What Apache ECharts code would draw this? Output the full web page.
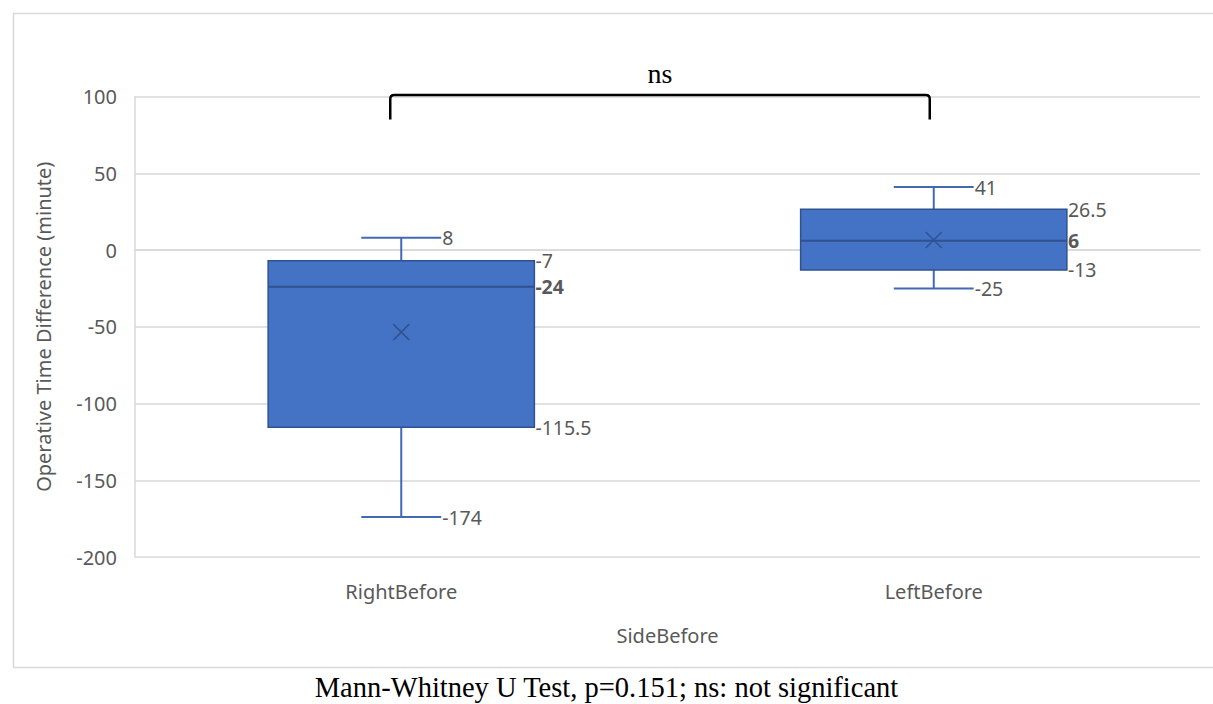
<!DOCTYPE html>
<html>
<head>
<meta charset="utf-8">
<script src="https://cdn.jsdelivr.net/npm/echarts@6/dist/echarts.min.js"></script>
<style>
  html, body { margin: 0; padding: 0; background: #ffffff; }
  #chart { width: 1213px; height: 704px; }
</style>
</head>
<body>
<div id="chart"></div>
<script>
// ---- data ----
const categories = ['RightBefore', 'LeftBefore'];
const minimums = [-174, -25];
const lowerQuartiles = [-115.5, -13];
const medians = [-24, 6];
const upperQuartiles = [-7, 26.5];
const maximums = [8, 41];
const means = [-53.5, 6.5];
const yTicks = { min: -200, max: 100, interval: 50 };
const bracketPair = [0, 1];
const bracketLevels = [101, 85];   // top, foot of the bracket (axis units)
const bracketLabelLevel = 115;
const bracketLabel = 'ns';
const caption = 'Mann-Whitney U Test, p=0.151; ns: not significant';

// ---- styles ----
const FILL = '#4472C4';
const BORDER = '#2F528F';
const WHISKER = '#4169B4';
const LABEL = '#595959';
const FONT = '"Noto Sans", "Open Sans", sans-serif';
const SERIF = '"Liberation Serif", "DejaVu Serif", serif';

const boxData = categories.map((c, i) => [i, minimums[i], lowerQuartiles[i], medians[i], upperQuartiles[i], maximums[i], means[i]]);

function fmt(v) { return String(v); }

function renderBox(params, api) {
  const i = api.value(0);
  const vMin = api.value(1), vQ1 = api.value(2), vMed = api.value(3), vQ3 = api.value(4), vMax = api.value(5), vMean = api.value(6);
  const band = api.size([1, 0])[0];
  const cx = api.coord([i, vMed])[0];
  const y = v => api.coord([i, v])[1];
  const bw = band * 0.5, cw = band * 0.15;
  const xl = cx - bw / 2, xr = cx + bw / 2;
  const wStyle = { stroke: WHISKER, lineWidth: 2 };
  const m = 8;
  const txt = (x, yy, t, bold) => ({
    type: 'text', x: x, y: yy,
    style: { text: t, fill: LABEL, fontSize: 19.5, fontFamily: FONT, fontWeight: bold ? 'bold' : 'normal', align: 'left', verticalAlign: 'middle' }
  });
  return {
    type: 'group',
    children: [
      { type: 'line', shape: { x1: cx, y1: y(vMax), x2: cx, y2: y(vQ3) }, style: wStyle },
      { type: 'line', shape: { x1: cx, y1: y(vQ1), x2: cx, y2: y(vMin) }, style: wStyle },
      { type: 'line', shape: { x1: cx - cw / 2, y1: y(vMax), x2: cx + cw / 2, y2: y(vMax) }, style: wStyle },
      { type: 'line', shape: { x1: cx - cw / 2, y1: y(vMin), x2: cx + cw / 2, y2: y(vMin) }, style: wStyle },
      { type: 'rect', shape: { x: xl, y: y(vQ3), width: bw, height: y(vQ1) - y(vQ3) }, style: { fill: FILL, stroke: BORDER, lineWidth: 1.5 } },
      { type: 'line', shape: { x1: xl, y1: y(vMed), x2: xr, y2: y(vMed) }, style: { stroke: BORDER, lineWidth: 2 } },
      { type: 'line', shape: { x1: cx - m, y1: y(vMean) - m, x2: cx + m, y2: y(vMean) + m }, style: { stroke: BORDER, lineWidth: 1.5 } },
      { type: 'line', shape: { x1: cx - m, y1: y(vMean) + m, x2: cx + m, y2: y(vMean) - m }, style: { stroke: BORDER, lineWidth: 1.5 } },
      txt(cx + cw / 2 + 1, y(vMax), fmt(vMax), false),
      txt(cx + cw / 2 + 1, y(vMin), fmt(vMin), false),
      txt(xr + 1, y(vQ3), fmt(vQ3), false),
      txt(xr + 1, y(vMed), fmt(vMed), true),
      txt(xr + 1, y(vQ1), fmt(vQ1), false)
    ]
  };
}

function renderBracket(params, api) {
  const a = api.coord([api.value(0), api.value(2)]);
  const b = api.coord([api.value(1), api.value(2)]);
  const yFoot = api.coord([api.value(0), api.value(3)])[1];
  const yLab = api.coord([api.value(0), api.value(4)])[1];
  const x1 = a[0] - 11, x2 = b[0] - 4, yTop = a[1];
  const r = 4;
  return {
    type: 'group',
    children: [
      {
        type: 'path',
        shape: {
          pathData: 'M' + x1 + ' ' + yFoot + ' L' + x1 + ' ' + (yTop + r) + ' Q' + x1 + ' ' + yTop + ' ' + (x1 + r) + ' ' + yTop +
            ' L' + (x2 - r) + ' ' + yTop + ' Q' + x2 + ' ' + yTop + ' ' + x2 + ' ' + (yTop + r) + ' L' + x2 + ' ' + yFoot
        },
        style: { stroke: '#000000', lineWidth: 2.5, fill: null }
      },
      {
        type: 'text', x: (x1 + x2) / 2, y: yLab,
        style: { text: bracketLabel, fill: '#000000', fontSize: 28, fontFamily: SERIF, align: 'center', verticalAlign: 'middle' }
      }
    ]
  };
}

const chart = echarts.init(document.getElementById('chart'), null, { renderer: 'svg' });
chart.setOption({
  animation: false,
  backgroundColor: '#ffffff',
  title: {
    text: caption, left: 'center', top: 668,
    textStyle: { fontFamily: SERIF, fontSize: 28.5, fontWeight: 'normal', color: '#000000' }
  },
  graphic: [{
    type: 'rect', left: 11, top: 11, z: -10,
    shape: { width: 1240, height: 654 },
    style: { fill: null, stroke: '#d9d9d9', lineWidth: 1.5 }
  }],
  grid: { left: 135, right: 13, top: 96.5, bottom: 147, containLabel: false },
  xAxis: {
    type: 'category', data: categories,
    name: 'SideBefore', nameLocation: 'middle', nameGap: 68,
    nameTextStyle: { color: LABEL, fontSize: 20, fontFamily: FONT },
    axisLine: { show: true, lineStyle: { color: '#d9d9d9', width: 1.5 } },
    axisTick: { show: false },
    axisLabel: { color: LABEL, fontSize: 20, fontFamily: FONT, margin: 24 },
    splitLine: { show: false }
  },
  yAxis: {
    type: 'value', min: yTicks.min, max: yTicks.max, interval: yTicks.interval,
    name: 'Operative Time Difference (minute)', nameLocation: 'middle', nameGap: 82,
    nameTextStyle: { color: LABEL, fontSize: 20, fontFamily: FONT },
    axisLine: { show: true, lineStyle: { color: '#d9d9d9', width: 1.5 } },
    axisTick: { show: false },
    axisLabel: { color: LABEL, fontSize: 20, fontFamily: FONT, margin: 18 },
    splitLine: { lineStyle: { color: '#d9d9d9', width: 1.5 } }
  },
  series: [
    {
      type: 'custom', name: 'box', renderItem: renderBox, data: boxData,
      encode: { x: 0, y: [1, 2, 3, 4, 5, 6] }, clip: false, z: 5
    },
    {
      type: 'custom', name: 'bracket', renderItem: renderBracket,
      data: [[bracketPair[0], bracketPair[1], bracketLevels[0], bracketLevels[1], bracketLabelLevel]],
      encode: { x: [0, 1], y: [2, 3] }, clip: false, z: 6
    }
  ]
});
</script>
</body>
</html>
